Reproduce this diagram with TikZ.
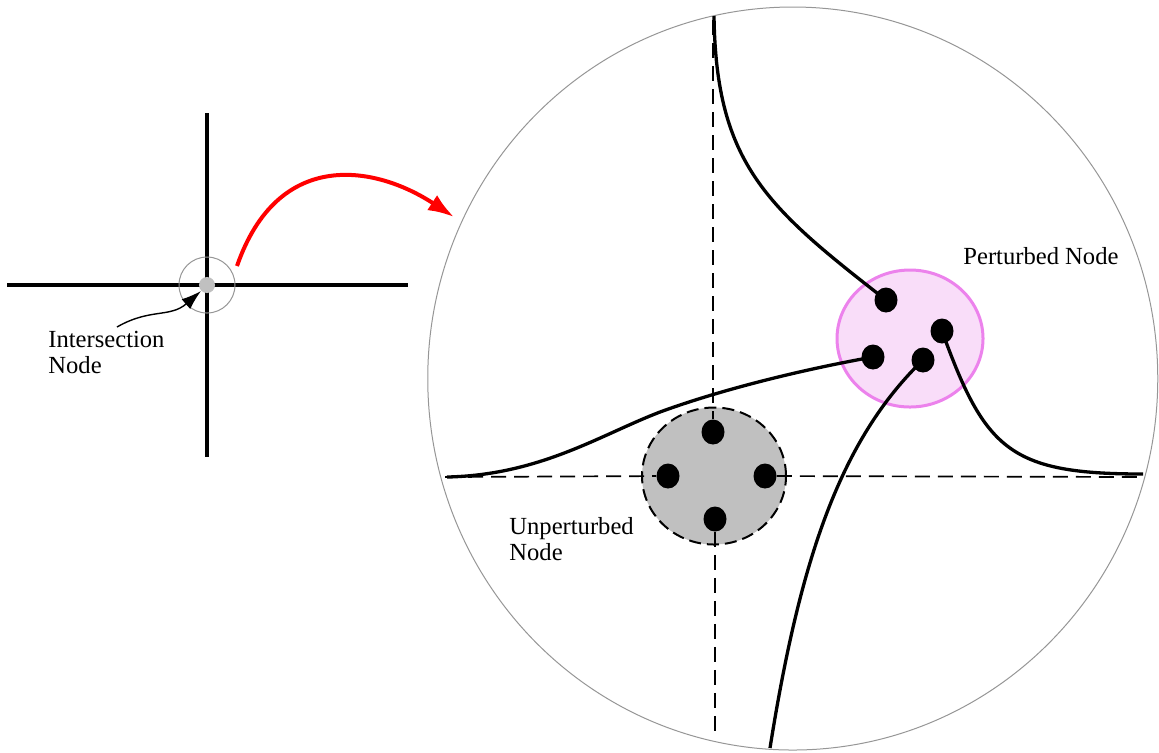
\documentclass[tikz,border=0pt]{standalone}
\usepackage{fontspec}
\setmainfont{Liberation Serif}
\usetikzlibrary{arrows.meta,shapes.geometric}
\definecolor{pinkfill}{RGB}{249,221,249}
\definecolor{pinkline}{RGB}{236,130,236}
\definecolor{nodegray}{RGB}{192,192,192}
\definecolor{rimgray}{RGB}{150,150,150}
\tikzset{
  thickline/.style={line width=1.65pt, line cap=butt},
  curveline/.style={line width=1.65pt},
  dashline/.style={line width=0.85pt, dash pattern=on 7.5pt off 4pt},
  blackdot/.style={ellipse, fill=black, minimum width=11.5pt, minimum height=12.5pt, inner sep=0pt},
  lbl/.style={font=\fontsize{12.3}{13}\selectfont, inner sep=0pt, align=left},
}
\begin{document}
\begin{tikzpicture}[x=0.5pt,y=-0.5pt]
\useasboundingbox (0,0) rectangle (1159,752);
% ---- left cross ----
\coordinate (hl) at (7,285);
\coordinate (hr) at (408,285);
\coordinate (vt) at (207,113);
\coordinate (vb) at (207,457);
\draw[thickline] (hl) -- (hr);
\draw[thickline] (vt) -- (vb);
\node[circle, draw=rimgray, line width=0.5pt, minimum size=28pt, inner sep=0pt] (zoomring) at (207,285) {};
\node[circle, fill=nodegray, minimum size=8pt, inner sep=0pt] (interdot) at (207,285) {};
\node[lbl, anchor=north west] (interlbl) at (48,331) {Intersection\\Node};
\coordinate (arrstart) at (117,327);
\draw[line width=0.7pt, -{Latex[length=10pt,width=6.5pt]}] (arrstart) .. controls (150,308) and (170,318) .. (interdot.south west);
% ---- red arrow ----
\coordinate (redstart) at (237,266);
\coordinate (redend) at (454,217);
\draw[red, line width=2pt, -{Latex[length=13pt,width=9pt]}] (redstart) .. controls (278,148) and (375,165) .. (redend);
% ---- big circle ----
\draw[rimgray, line width=0.5pt] (792.75,378.5) ellipse [x radius=365, y radius=371.5];
% ---- unperturbed node ----
\node[ellipse, draw=black, fill=nodegray, line width=1pt, dash pattern=on 6pt off 3pt, minimum width=72pt, minimum height=68.5pt, inner sep=0pt] (unpert) at (714,476) {};
\node[blackdot] (ut) at (713,432) {};
\node[blackdot] (ul) at (668,476) {};
\node[blackdot] (ur) at (765,476) {};
\node[blackdot] (ub) at (715,519) {};
\coordinate (dl) at (445,477);
\coordinate (dr) at (1143,477);
\coordinate (dt) at (713,20);
\coordinate (db) at (715,738);
\draw[dashline] (dl) -- (ul);
\draw[dashline] (ur) -- (dr);
\draw[dashline] (dt) -- (ut);
\draw[dashline] (ub) -- (db);
\node[lbl, anchor=north west] (unlbl) at (509,517) {Unperturbed\\Node};
% ---- perturbed node ----
\node[ellipse, draw=pinkline, fill=pinkfill, line width=1.5pt, minimum width=73pt, minimum height=68.5pt, inner sep=0pt] (pert) at (910,338.5) {};
\node[lbl, anchor=base west] (plbl) at (963,264) {Perturbed Node};
\coordinate (ctop) at (714,16);
\coordinate (cleft) at (447,477);
\coordinate (cbot) at (770,748);
\coordinate (cright) at (1143,474);
\coordinate (pa) at (886,300);
\coordinate (pb) at (942,331);
\coordinate (pc) at (873,357);
\coordinate (pd) at (923,360);
\draw[curveline] (ctop) .. controls (716,165) and (768,208) .. (pa);
\draw[curveline] (cleft) .. controls (540,475) and (600,435) .. (660,412) .. controls (720,390) and (800,370) .. (pc);
\draw[curveline] (cbot) .. controls (800,560) and (840,440) .. (pd);
\draw[curveline] (pb) .. controls (985,450) and (1010,474) .. (cright);
\node[blackdot] (da) at (pa) {};
\node[blackdot] (db2) at (pb) {};
\node[blackdot] (dc) at (pc) {};
\node[blackdot] (dd) at (pd) {};
\end{tikzpicture}
\end{document}
